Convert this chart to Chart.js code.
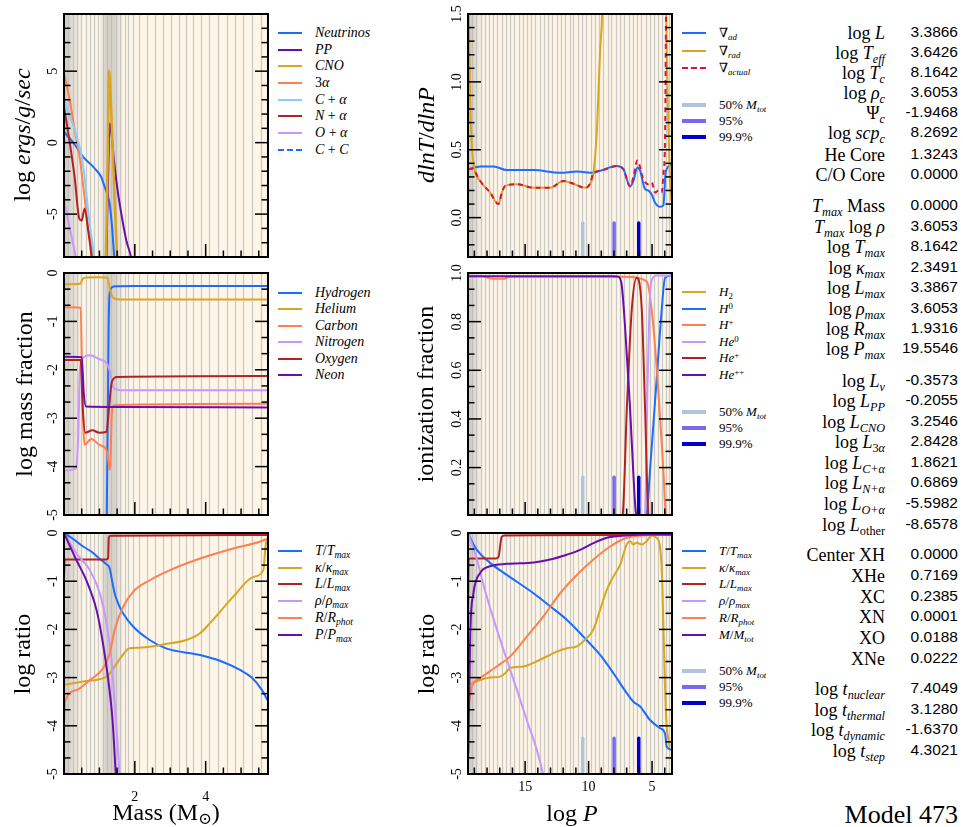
<!DOCTYPE html>
<html lang="en">
<head>
<meta charset="UTF-8">
<title>Model 473</title>
<script src="https://cdn.jsdelivr.net/npm/chart.js"></script>
<style>
  body { margin: 0; width: 963px; height: 827px; position: relative; overflow: hidden; background: #fff;
         font-family: "Liberation Serif", "DejaVu Serif", serif; color: #000; }
  canvas { position: absolute; }
  .title { position: absolute; white-space: nowrap; font-size: 24px; transform: translate(-50%, -50%); }
  .title.rot { transform: translate(-50%, -50%) rotate(-90deg); }
  .lg { position: absolute; height: 18px; display: flex; align-items: center; white-space: nowrap; }
  .lg .s { display: inline-block; height: 0; border-top-style: solid; margin-right: 13px; }
  .tl, .tv { position: absolute; white-space: nowrap; line-height: 22px; text-align: right; }
  .tl { font-size: 18px; }
  .tv { font-family: "Liberation Sans", "DejaVu Sans", sans-serif; font-size: 15.5px; }
  sub { font-size: 0.68em; vertical-align: -0.3em; line-height: 0; }
  sup { font-size: 0.68em; vertical-align: 0.5em; line-height: 0; }
</style>
</head>
<body>
<script>
  // colours
  const BLUE = '#1a6dff', GOLD = '#daa520', CORAL = '#ff7f50', PLUM = '#c896ff', RED = '#b22222',
        PURPLE = '#6a0dad', SKY = '#87cefa', CRIMSON = '#dc143c',
        M50 = '#b0c4de', M95 = '#7b68ee', M999 = '#0000cd';

  // zone boundaries (mass and log P)
  const massMesh = [0.11, 0.24, 0.37, 0.49, 0.61, 0.73, 0.85, 0.97, 1.1, 1.2, 1.34, 1.48, 1.59, 1.72, 1.81, 1.94,
    2.12, 2.35, 2.57, 2.8, 3.01, 3.24, 3.44, 3.65, 3.87, 4.1, 4.36, 4.6, 4.83, 5.06, 5.3, 5.56, 5.73];
  const logPMesh = [19.2, 18.85, 18.5, 18.2, 17.85, 17.5, 17.2, 16.85, 16.5, 16.2, 15.85, 15.5, 15.2, 14.85, 14.5,
    14.2, 13.85, 13.5, 13.2, 12.85, 12.5, 12.2, 11.85, 11.5, 11.2, 10.85, 10.5, 10.2, 9.85, 9.5, 9.2, 8.85, 8.5,
    8.2, 7.85, 7.5, 7.2, 6.85, 6.5, 6.2, 5.85, 5.5, 5.2, 4.85, 4.5, 4.2, 3.9, 3.65];

  // top left: burning rates, log ergs/g/sec vs mass
  const rateNeutrinos = [[0,0.8],[0.1,0.45],[0.2,0.2],[0.35,-0.3],[0.54,-1.0],[0.75,-1.5],[0.92,-1.95],[1.05,-2.4],[1.15,-3.1],[1.22,-3.6],[1.29,-4.3],[1.36,-6.0],[1.43,-8.5]];
  const ratePP = [[1.19,-9],[1.23,-4],[1.26,-0.8],[1.29,1.36],[1.34,0.66],[1.41,-1.2],[1.5,-3.1],[1.62,-5],[1.76,-6.85],[1.9,-8.1],[1.95,-9]];
  const rateCNO = [[1.17,-9],[1.2,-6],[1.24,0],[1.27,5.05],[1.34,1.83],[1.43,-4.04],[1.5,-8],[1.52,-9]];
  const rate3a = [[0,4.9],[0.16,3.0],[0.3,0.9],[0.44,-1.0],[0.58,-3.8],[0.68,-5.9],[0.82,-8.0],[0.86,-9]];
  const rateCa = [[0,3.1],[0.1,2.3],[0.3,0.9],[0.5,-1.0],[0.6,-2.8],[0.7,-5.2],[0.8,-7.0],[0.88,-8.5]];
  const rateNa = [[0,2.5],[0.15,0.2],[0.3,-2.4],[0.43,-5.3],[0.5,-5.45],[0.58,-4.6],[0.68,-6.1],[0.78,-8.0],[0.82,-9]];
  const rateOa = [[0,-4.0],[0.12,-5.5],[0.25,-7],[0.35,-8.2]];
  const rateCC = [];

  // middle left: log mass fraction vs mass
  const abunH = [[1.2,-5.5],[1.235,-3],[1.26,-1.2],[1.28,-0.5],[1.32,-0.33],[1.4,-0.28],[2,-0.27],[5.76,-0.27]];
  const abunHe = [[0,-0.23],[0.46,-0.22],[0.52,-0.13],[0.58,-0.1],[1.0,-0.09],[1.23,-0.1],[1.3,-0.35],[1.4,-0.52],[1.6,-0.55],[5.76,-0.55]];
  const abunC = [[0,-0.71],[0.47,-0.72],[0.52,-2.5],[0.58,-3.55],[0.77,-3.43],[1.0,-3.55],[1.2,-3.66],[1.3,-4.07],[1.35,-2.9],[1.42,-2.73],[5.76,-2.7]];
  const abunN = [[0,-4.08],[0.33,-4.04],[0.4,-3.4],[0.45,-2.0],[0.52,-1.77],[0.73,-1.7],[1.0,-1.78],[1.22,-1.88],[1.3,-2.05],[1.4,-2.38],[1.6,-2.42],[5.76,-2.42]];
  const abunO = [[0,-1.8],[0.47,-1.8],[0.53,-2.8],[0.6,-3.3],[0.8,-3.25],[1.0,-3.3],[1.2,-3.28],[1.27,-2.8],[1.35,-2.25],[1.5,-2.15],[5.76,-2.13]];
  const abunNe = [[0,-1.73],[0.5,-1.74],[0.56,-2.5],[0.62,-2.76],[1.5,-2.77],[5.76,-2.78]];

  // bottom left: log ratio vs mass
  const mT = [[0,0],[0.25,-0.12],[0.54,-0.28],[0.8,-0.4],[1.0,-0.53],[1.2,-0.65],[1.29,-0.73],[1.36,-1.0],[1.43,-1.25],[1.55,-1.5],[1.67,-1.67],[1.95,-1.94],[2.42,-2.22],[2.9,-2.4],[3.84,-2.53],[4.4,-2.65],[4.97,-2.84],[5.3,-3.0],[5.59,-3.26],[5.77,-3.5]];
  const mKappa = [[0,-3.15],[0.54,-3.08],[1.2,-2.98],[1.43,-2.77],[1.62,-2.57],[1.85,-2.39],[2.1,-2.38],[2.9,-2.3],[3.46,-2.22],[3.84,-2.08],[4.12,-1.87],[4.78,-1.32],[5.35,-0.91],[5.63,-0.77],[5.68,-0.35],[5.72,-0.15],[5.77,-0.08]];
  const mL = [[0,-0.9],[0.02,-0.55],[0.5,-0.55],[1.2,-0.55],[1.245,-0.52],[1.265,-0.1],[1.3,-0.06],[1.4,-0.055],[5.77,-0.04]];
  const mRho = [[0,0],[0.35,-0.42],[0.73,-0.77],[1.01,-1.25],[1.2,-1.87],[1.34,-2.63],[1.43,-3.53],[1.53,-4.57],[1.58,-5.2]];
  const mR = [[0,-3.9],[0.03,-3.5],[0.35,-3.26],[0.73,-3.05],[1.1,-2.81],[1.29,-2.5],[1.43,-2.01],[1.67,-1.53],[1.95,-1.22],[2.42,-0.98],[2.9,-0.8],[3.84,-0.53],[4.78,-0.32],[5.53,-0.18],[5.77,-0.11]];
  const mP = [[0,0],[0.35,-0.56],[0.63,-0.98],[0.92,-1.6],[1.1,-2.29],[1.25,-3.05],[1.37,-3.88],[1.46,-5.0],[1.48,-5.3]];

  // top right: gradients vs log P
  const gradAd = [[19.46,0.357],[18.54,0.377],[17.49,0.377],[16.44,0.35],[14.34,0.35],[12.24,0.33],[10.93,0.34],[9.62,0.33],[9.09,0.345],[7.78,0.38],[7.26,0.357],[6.73,0.23],[6.47,0.27],[6.16,0.37],[5.94,0.345],[5.55,0.21],[5.29,0.2],[5.03,0.17],[4.76,0.11],[4.37,0.08],[4.11,0.09],[3.92,0.34],[3.45,0.39]];
  const gradRad = [[19.5,1.7],[19.44,1.5],[19.33,0.86],[19.2,0.54],[19.02,0.37],[18.54,0.27],[17.76,0.185],[17.1,0.1],[16.83,0.185],[16.57,0.234],[15.65,0.246],[14.34,0.22],[13.03,0.22],[11.98,0.27],[11.2,0.25],[10.28,0.22],[9.88,0.25],[9.62,0.33],[9.36,0.62],[9.09,1.23],[8.93,1.5],[8.6,3],[4.0,3],[3.88,1.5],[3.75,0.8],[3.6,0.3],[3.47,0.12]];
  const gradActual = [[19.46,0.357],[19.1,0.36],[19.02,0.35],[18.54,0.27],[17.76,0.185],[17.1,0.1],[16.83,0.185],[16.57,0.234],[15.65,0.246],[14.34,0.22],[13.03,0.22],[11.98,0.27],[11.2,0.25],[10.28,0.22],[9.88,0.25],[9.62,0.33],[9.09,0.345],[7.78,0.38],[7.26,0.357],[6.73,0.23],[6.47,0.3],[6.16,0.42],[5.68,0.28],[5.29,0.246],[5.03,0.26],[4.76,0.185],[4.5,0.2],[4.24,0.185],[4.11,0.32],[3.98,0.57],[3.9,1.5],[3.85,2]];

  // middle right: ionization fraction vs log P
  const ionH2 = [[19.5,0],[3.43,0]];
  const ionH0 = [[19.5,0],[5.6,0],[5.42,0.01],[5.16,0.19],[4.63,0.57],[4.24,0.85],[3.98,0.98],[3.45,0.99]];
  const ionHp = [[19.5,0.987],[18.5,0.987],[17.5,0.976],[16.7,0.976],[16.2,0.985],[7.0,0.985],[5.55,0.97],[5.29,0.946],[4.9,0.78],[4.5,0.51],[4.11,0.19],[3.92,0.01],[3.8,0]];
  const ionHe0 = [[19.5,0],[5.6,0],[5.55,0.01],[5.37,0.51],[5.21,0.85],[5.03,0.97],[4.63,0.99],[3.45,0.99]];
  const ionHep = [[19.5,0],[7.4,0],[7.31,0.01],[6.99,0.44],[6.6,0.85],[6.21,0.98],[5.81,0.85],[5.55,0.44],[5.29,0.01],[5.2,0],[3.45,0]];
  const ionHepp = [[19.5,0.987],[8.0,0.987],[7.65,0.985],[7.39,0.95],[7.13,0.78],[6.73,0.44],[6.47,0.17],[6.26,0.01],[6.1,0],[3.45,0]];

  // bottom right: log ratio vs log P
  const pT = [[19.46,-0.03],[19.2,-0.17],[18.8,-0.35],[17.76,-0.62],[16.44,-0.87],[14.34,-1.25],[13.03,-1.52],[11.72,-1.8],[10.41,-2.15],[9.09,-2.53],[8.04,-2.91],[7.0,-3.32],[6.47,-3.5],[5.94,-3.6],[5.16,-3.88],[4.37,-4.05],[3.98,-4.16],[3.85,-4.43],[3.45,-4.5]];
  const pKappa = [[19.46,-3.15],[18.54,-3.05],[17.76,-3.0],[16.97,-2.98],[16.57,-2.91],[16.18,-2.8],[15.13,-2.77],[13.82,-2.63],[12.5,-2.46],[11.72,-2.39],[10.93,-2.35],[10.15,-2.18],[9.62,-2.0],[9.09,-1.59],[8.57,-1.18],[8.04,-0.9],[7.52,-0.66],[7.0,-0.24],[6.73,-0.17],[6.47,-0.24],[6.21,-0.2],[5.81,-0.24],[5.42,-0.17],[5.03,-0.05],[4.63,-0.1],[4.37,-0.3],[4.2,-1.0],[4.05,-2.5],[3.9,-3.8],[3.6,-4.45]];
  const pL = [[19.5,-2.0],[19.46,-0.55],[19.3,-0.53],[17.3,-0.53],[17.1,-0.5],[16.85,-0.08],[16.6,-0.05],[10,-0.04],[3.45,-0.04]];
  const pRho = [[19.46,-0.03],[18.88,-0.48],[18.1,-1.25],[17.23,-2.0],[16.44,-2.63],[15.65,-3.25],[14.87,-3.88],[14.08,-4.5],[13.6,-5.0],[13.4,-5.3]];
  const pR = [[19.46,-3.6],[19.2,-3.19],[18.54,-3.01],[17.23,-2.77],[16.18,-2.56],[14.87,-2.15],[13.56,-1.73],[12.24,-1.25],[10.93,-0.87],[9.62,-0.55],[8.3,-0.28],[7.0,-0.1],[5.68,-0.05],[3.45,-0.03]];
  const pM = [[19.47,-4.57],[19.33,-2.15],[19.07,-1.25],[18.54,-0.83],[17.76,-0.69],[16.44,-0.64],[14.34,-0.61],[13.03,-0.55],[11.72,-0.45],[10.67,-0.35],[9.62,-0.21],[8.57,-0.1],[7.0,-0.05],[3.45,-0.03]];

  // mass-fraction markers (log P) and the top of their bars in each right panel
  const markerLogP = [10.46, 7.99, 6.05];
  const markerColors = [M50, M95, M999];
  const markerTop = [-0.04, 0.16, -4.26];

  // tick labels
  const massTicks = [2, 4], massTickLabels = ['2', '4'];
  const logPTicks = [15, 10, 5], logPTickLabels = ['15', '10', '5'];
  const rateTicks = [-5, 0, 5], rateTickLabels = ['-5', '0', '5'];
  const logTicks = [-5, -4, -3, -2, -1, 0], logTickLabels = ['-5', '-4', '-3', '-2', '-1', '0'];
  const gradTicks = [0, 0.5, 1.0, 1.5], gradTickLabels = ['0.0', '0.5', '1.0', '1.5'];
  const ionTicks = [0.2, 0.4, 0.6, 0.8, 1.0], ionTickLabels = ['0.2', '0.4', '0.6', '0.8', '1.0'];

  // side table
  const tableLabels = ['log <i>L</i>', 'log <i>T<sub>eff</sub></i>', 'log <i>T<sub>c</sub></i>', 'log <i>ρ<sub>c</sub></i>',
    'Ψ<sub><i>c</i></sub>', 'log <i>scp<sub>c</sub></i>', 'He Core', 'C/O Core',
    '<i>T<sub>max</sub></i> Mass', '<i>T<sub>max</sub></i> log <i>ρ</i>', 'log <i>T<sub>max</sub></i>', 'log <i>κ<sub>max</sub></i>',
    'log <i>L<sub>max</sub></i>', 'log <i>ρ<sub>max</sub></i>', 'log <i>R<sub>max</sub></i>', 'log <i>P<sub>max</sub></i>',
    'log <i>L<sub>ν</sub></i>', 'log <i>L<sub>PP</sub></i>', 'log <i>L<sub>CNO</sub></i>', 'log <i>L</i><sub>3<i>α</i></sub>',
    'log <i>L<sub>C+α</sub></i>', 'log <i>L<sub>N+α</sub></i>', 'log <i>L<sub>O+α</sub></i>', 'log <i>L</i><sub>other</sub>',
    'Center XH', 'XHe', 'XC', 'XN', 'XO', 'XNe',
    'log <i>t<sub>nuclear</sub></i>', 'log <i>t<sub>thermal</sub></i>', 'log <i>t<sub>dynamic</sub></i>', 'log <i>t<sub>step</sub></i>'];
  const tableValues = ['3.3866', '3.6426', '8.1642', '3.6053', '-1.9468', '8.2692', '1.3243', '0.0000',
    '0.0000', '3.6053', '8.1642', '2.3491', '3.3867', '3.6053', '1.9316', '19.5546',
    '-0.3573', '-0.2055', '3.2546', '2.8428', '1.8621', '0.6869', '-5.5982', '-8.6578',
    '0.0000', '0.7169', '0.2385', '0.0001', '0.0188', '0.0222',
    '7.4049', '3.1280', '-1.6370', '4.3021'];
  const tableRowY = [33, 53, 73, 93, 113, 133, 155, 175, 206, 227, 247, 268, 288, 309, 329, 349,
    381, 401, 422, 442, 463, 483, 504, 525, 555, 576, 597, 617, 638, 659, 689, 710, 730, 751];

  // legend labels
  const rateNames = ['<i>Neutrinos</i>', '<i>PP</i>', '<i>CNO</i>', '3<i>α</i>', '<i>C</i> + <i>α</i>', '<i>N</i> + <i>α</i>', '<i>O</i> + <i>α</i>', '<i>C</i> + <i>C</i>'];
  const abunNames = ['<i>Hydrogen</i>', '<i>Helium</i>', '<i>Carbon</i>', '<i>Nitrogen</i>', '<i>Oxygen</i>', '<i>Neon</i>'];
  const ratioNames = ['<i>T</i>/<i>T<sub>max</sub></i>', '<i>κ</i>/<i>κ<sub>max</sub></i>', '<i>L</i>/<i>L<sub>max</sub></i>',
    '<i>ρ</i>/<i>ρ<sub>max</sub></i>', '<i>R</i>/<i>R<sub>phot</sub></i>'];
  const gradNames = ['∇<sub><i>ad</i></sub>', '∇<sub><i>rad</i></sub>', '∇<sub><i>actual</i></sub>'];
  const ionNames = ['<i>H</i><sub>2</sub>', '<i>H</i><sup>0</sup>', '<i>H</i><sup>+</sup>', '<i>He</i><sup>0</sup>', '<i>He</i><sup>+</sup>', '<i>He</i><sup>++</sup>'];
  const markerNames = ['50% <i>M<sub>tot</sub></i>', '95%', '99.9%'];

  function line(pts, color, extra) {
    return Object.assign({
      data: pts.map(p => ({ x: p[0], y: p[1] })), borderColor: color, borderWidth: 2,
      pointRadius: 0, fill: false, cubicInterpolationMode: 'monotone'
    }, extra || {});
  }
  function markers(ymin, top) {
    return markerLogP.map((v, i) => ({
      data: [{ x: v, y: ymin }, { x: v, y: top }], borderColor: markerColors[i], borderWidth: 3.5,
      pointRadius: 0, tension: 0, borderCapStyle: 'round'
    }));
  }

  function minorTicks(c) {
    const out = [], ms = c.step / c.div;
    const lo = Math.min(c.min, c.max), hi = Math.max(c.min, c.max);
    for (let k = Math.ceil(lo / ms - 1e-6); k <= Math.floor(hi / ms + 1e-6); k++) {
      if (((k % c.div) + c.div) % c.div !== 0) out.push(k * ms);
    }
    return out;
  }

  function drawShade(ctx, x, a, stops) {
    const p0 = x.getPixelForValue(stops[0][0]);
    const p1 = x.getPixelForValue(stops[stops.length - 1][0]);
    const g = ctx.createLinearGradient(p0, 0, p1, 0);
    stops.forEach(([v, al]) => {
      const t = (x.getPixelForValue(v) - p0) / (p1 - p0);
      g.addColorStop(Math.min(1, Math.max(0, t)), 'rgba(165,165,165,' + al + ')');
    });
    ctx.fillStyle = g;
    ctx.fillRect(Math.min(p0, p1), a.top, Math.abs(p1 - p0), a.bottom - a.top);
  }

  function decoPlugin(xc, yc, shades, mesh) {
    return {
      id: 'deco',
      beforeDatasetsDraw(chart) {
        const { ctx, chartArea: a } = chart;
        const x = chart.scales.x;
        ctx.save();
        ctx.beginPath();
        ctx.rect(a.left, a.top, a.right - a.left, a.bottom - a.top);
        ctx.clip();
        ctx.fillStyle = '#fdf5e6';
        ctx.fillRect(a.left, a.top, a.right - a.left, a.bottom - a.top);
        shades.forEach(s => drawShade(ctx, x, a, s));
        ctx.strokeStyle = 'rgba(185,185,185,0.75)';
        ctx.lineWidth = 1.2;
        mesh.forEach(v => {
          const px = Math.round(x.getPixelForValue(v)) + 0.5;
          ctx.beginPath(); ctx.moveTo(px, a.top); ctx.lineTo(px, a.bottom); ctx.stroke();
        });
        ctx.restore();
      },
      afterDraw(chart) {
        const { ctx, chartArea: a } = chart;
        const x = chart.scales.x, y = chart.scales.y;
        ctx.save();
        ctx.strokeStyle = '#000';
        ctx.fillStyle = '#000';
        ctx.lineWidth = 1.5;
        const seg = (x0, y0, x1, y1) => { ctx.beginPath(); ctx.moveTo(x0, y0); ctx.lineTo(x1, y1); ctx.stroke(); };
        xc.ticks.forEach(v => { const p = x.getPixelForValue(v); seg(p, a.bottom, p, a.bottom - 13); });
        minorTicks(xc).forEach(v => { const p = x.getPixelForValue(v); seg(p, a.bottom, p, a.bottom - 6.5); });
        yc.ticks.forEach(v => {
          const p = y.getPixelForValue(v);
          seg(a.left, p, a.left + 13, p); seg(a.right, p, a.right - 13, p);
        });
        minorTicks(yc).forEach(v => {
          const p = y.getPixelForValue(v);
          seg(a.left, p, a.left + 6.5, p); seg(a.right, p, a.right - 6.5, p);
        });
        ctx.lineWidth = 2;
        ctx.strokeRect(a.left, a.top, a.right - a.left, a.bottom - a.top);
        ctx.font = '14px "Liberation Serif", "DejaVu Serif", serif';
        ctx.textAlign = 'center';
        ctx.textBaseline = 'middle';
        yc.ticks.forEach((v, i) => {
          ctx.save();
          ctx.translate(a.left - 10.5, y.getPixelForValue(v));
          ctx.rotate(-Math.PI / 2);
          ctx.fillText(yc.labels[i], 0, 0);
          ctx.restore();
        });
        if (xc.labelGap) {
          xc.ticks.forEach((v, i) => ctx.fillText(xc.labels[i], x.getPixelForValue(v), a.bottom + xc.labelGap));
        }
        ctx.restore();
      }
    };
  }

  function makeChart(rect, xc, yc, datasets, shades, mesh) {
    const padL = 40, padT = 14, padR = 6, padB = 34;
    const c = document.createElement('canvas');
    c.width = rect[1] - rect[0] + padL + padR;
    c.height = rect[3] - rect[2] + padT + padB;
    c.style.left = (rect[0] - padL) + 'px';
    c.style.top = (rect[2] - padT) + 'px';
    document.body.appendChild(c);
    const n = datasets.length;
    datasets.forEach((d, i) => { d.order = n - i; });
    new Chart(c, {
      type: 'line',
      data: { datasets: datasets },
      options: {
        responsive: false,
        animation: false,
        events: [],
        layout: { padding: { left: padL, top: padT, right: padR, bottom: padB } },
        plugins: { legend: { display: false }, tooltip: { enabled: false } },
        scales: {
          x: { type: 'linear', min: xc.min, max: xc.max, reverse: !!xc.reverse, display: false },
          y: { type: 'linear', min: yc.min, max: yc.max, display: false }
        }
      },
      plugins: [decoPlugin(xc, yc, shades, mesh)]
    });
  }

  const massShades = [[[0, 0.55], [0.25, 0.3], [0.55, 0]], [[1.0, 0], [1.18, 0.45], [1.42, 0.45], [1.7, 0]]];
  const logPShades = [[[19.5, 0.6], [19.0, 0.35], [18.3, 0]]];

  const xMass = { min: 0, max: 5.76, step: 2, div: 4, ticks: massTicks, labels: massTickLabels };
  const xMassLab = Object.assign({ labelGap: 23 }, xMass);
  const xLogP = { min: 3.43, max: 19.5, reverse: true, step: 5, div: 5, ticks: logPTicks, labels: logPTickLabels };
  const xLogPLab = Object.assign({ labelGap: 13 }, xLogP);

  const yRate = { min: -8, max: 9, step: 5, div: 5, ticks: rateTicks, labels: rateTickLabels };
  const yLog = { min: -5, max: 0, step: 1, div: 3, ticks: logTicks, labels: logTickLabels };
  const yGrad = { min: -0.29, max: 1.5, step: 0.5, div: 5, ticks: gradTicks, labels: gradTickLabels };
  const yIon = { min: 0.005, max: 1.0, step: 0.2, div: 3, ticks: ionTicks, labels: ionTickLabels };

  const L = [64, 268], R = [468, 672];
  const rowTop = [14, 257], rowMid = [273, 515], rowBot = [533, 774];

  makeChart([L[0], L[1], rowTop[0], rowTop[1]], xMass, yRate, [
    line(rateNeutrinos, BLUE), line(ratePP, PURPLE), line(rateCNO, GOLD, { borderWidth: 2.5 }), line(rate3a, CORAL),
    line(rateCa, SKY), line(rateNa, RED), line(rateOa, PLUM), line(rateCC, BLUE, { borderDash: [4, 4] })
  ], massShades, massMesh);

  makeChart([L[0], L[1], rowMid[0], rowMid[1]], xMass, yLog, [
    line(abunH, BLUE), line(abunHe, GOLD), line(abunC, CORAL), line(abunN, PLUM), line(abunO, RED), line(abunNe, PURPLE)
  ], massShades, massMesh);

  makeChart([L[0], L[1], rowBot[0], rowBot[1]], xMassLab, yLog, [
    line(mT, BLUE), line(mKappa, GOLD), line(mL, RED), line(mRho, PLUM), line(mR, CORAL), line(mP, PURPLE)
  ], massShades, massMesh);

  makeChart([R[0], R[1], rowTop[0], rowTop[1]], xLogP, yGrad, [
    line(gradAd, BLUE), line(gradRad, GOLD), line(gradActual, CRIMSON, { borderDash: [5, 4] })
  ].concat(markers(yGrad.min, markerTop[0])), logPShades, logPMesh);

  makeChart([R[0], R[1], rowMid[0], rowMid[1]], xLogP, yIon, [
    line(ionH2, GOLD), line(ionH0, BLUE), line(ionHp, CORAL), line(ionHe0, PLUM), line(ionHep, RED), line(ionHepp, PURPLE)
  ].concat(markers(yIon.min, markerTop[1])), logPShades, logPMesh);

  makeChart([R[0], R[1], rowBot[0], rowBot[1]], xLogPLab, yLog, [
    line(pT, BLUE), line(pKappa, GOLD), line(pL, RED), line(pRho, PLUM), line(pR, CORAL), line(pM, PURPLE)
  ].concat(markers(yLog.min, markerTop[2])), logPShades, logPMesh);

  // axis titles
  function addText(html, cx, cy, rot, size) {
    const d = document.createElement('div');
    d.className = 'title' + (rot ? ' rot' : '');
    d.style.left = cx + 'px';
    d.style.top = cy + 'px';
    if (size) d.style.fontSize = size + 'px';
    d.innerHTML = html;
    document.body.appendChild(d);
  }
  addText('log <i>ergs</i>/<i>g</i>/<i>sec</i>', 22, 135, true);
  addText('log mass fraction', 24, 394, true);
  addText('log ratio', 22, 654, true);
  addText('<i>dlnT</i>/<i>dlnP</i>', 426, 135, true);
  addText('ionization fraction', 425, 394, true);
  addText('log ratio', 426, 654, true);
  addText('Mass (M<sub>⊙</sub>)', 166, 812, false);
  addText('log <i>P</i>', 572, 813, false);

  // legends
  function addLegend(x, entries, fontSize) {
    entries.forEach(e => {
      const d = document.createElement('div');
      d.className = 'lg';
      d.style.left = x + 'px';
      d.style.top = (e.y - 9) + 'px';
      d.style.fontSize = fontSize + 'px';
      const s = document.createElement('span');
      s.className = 's';
      s.style.width = '24px';
      s.style.borderTopColor = e.color;
      s.style.borderTopWidth = (e.w || 2.5) + 'px';
      if (e.dash) s.style.borderTopStyle = 'dashed';
      d.appendChild(s);
      const t = document.createElement('span');
      t.innerHTML = e.html;
      d.appendChild(t);
      document.body.appendChild(d);
    });
  }
  const rateColors = [BLUE, PURPLE, GOLD, CORAL, SKY, RED, PLUM, BLUE];
  addLegend(278, rateNames.map((h, i) => ({ html: h, color: rateColors[i], y: 33 + 16.65 * i, dash: i === 7 })), 14);
  const abunColors = [BLUE, GOLD, CORAL, PLUM, RED, PURPLE];
  addLegend(278, abunNames.map((h, i) => ({ html: h, color: abunColors[i], y: 293 + 16.4 * i })), 14);
  const ratioColors = [BLUE, GOLD, RED, PLUM, CORAL, PURPLE];
  const ratioMass = ratioNames.concat(['<i>P</i>/<i>P<sub>max</sub></i>']);
  const ratioP = ratioNames.concat(['<i>M</i>/<i>M<sub>tot</sub></i>']);
  addLegend(278, ratioMass.map((h, i) => ({ html: h, color: ratioColors[i], y: 551 + 16.7 * i })), 14);

  const markerEntries = y0 => markerNames.map((h, i) => ({ html: h, color: markerColors[i], y: y0 + 16 * i, w: 4 }));
  const gradColors = [BLUE, GOLD, CRIMSON];
  addLegend(682, gradNames.map((h, i) => ({ html: h, color: gradColors[i], y: 33 + 17.5 * i, dash: i === 2 }))
    .concat(markerEntries(105)), 13);
  const ionColors = [GOLD, BLUE, CORAL, PLUM, RED, PURPLE];
  addLegend(682, ionNames.map((h, i) => ({ html: h, color: ionColors[i], y: 292 + 16.6 * i }))
    .concat(markerEntries(412)), 13);
  addLegend(682, ratioP.map((h, i) => ({ html: h, color: ratioColors[i], y: 551 + 16.7 * i }))
    .concat(markerEntries(671)), 13);

  // side table
  tableLabels.forEach((h, i) => {
    const l = document.createElement('div');
    l.className = 'tl';
    l.style.right = (963 - 885) + 'px';
    l.style.top = (tableRowY[i] - 11) + 'px';
    l.innerHTML = h;
    document.body.appendChild(l);
    const v = document.createElement('div');
    v.className = 'tv';
    v.style.right = '5px';
    v.style.top = (tableRowY[i] - 12) + 'px';
    v.textContent = tableValues[i];
    document.body.appendChild(v);
  });
  const model = document.createElement('div');
  model.className = 'tl';
  model.style.right = '5px';
  model.style.top = '801px';
  model.style.fontSize = '26px';
  model.style.lineHeight = '28px';
  model.textContent = 'Model 473';
  document.body.appendChild(model);
</script>
</body>
</html>
